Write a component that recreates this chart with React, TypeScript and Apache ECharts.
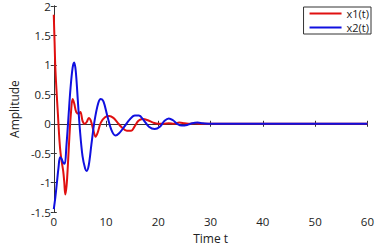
import React, { useEffect, useRef } from "react";
import * as echarts from "echarts";

const x1Data: [number, number][] = [
  [0, 1.85], [0.15, 1.4], [0.3, 0.95], [0.5, 0.6], [0.8, 0.15], [1.1, -0.3], [1.3, -0.5],
  [1.55, -0.66], [1.8, -0.8], [2.0, -0.98], [2.2, -1.2], [2.45, -1.05], [2.7, -0.7],
  [3.0, -0.2], [3.3, 0.2], [3.6, 0.42], [3.9, 0.35], [4.3, 0.2], [4.8, 0.17], [5.1, 0.2],
  [5.5, 0.05], [5.9, 0.0], [6.3, 0.03], [6.7, 0.1], [7.1, 0.05], [7.6, -0.12], [8.0, -0.22],
  [8.4, -0.15], [9.0, 0.02], [9.8, 0.11], [10.6, 0.13], [11.4, 0.1], [12.2, 0.02],
  [13.0, -0.06], [14.0, -0.12], [14.8, -0.12], [15.5, -0.04], [16.2, 0.05], [17.0, 0.08],
  [18.0, 0.06], [19.0, 0.02], [20.0, 0.0], [21, 0.0], [22, 0.01], [23, 0.0], [24, 0.02],
  [25, 0.01], [26, 0.0], [27, 0.01], [28, 0.0], [30, 0.0], [40, 0.0], [50, 0.0], [60, 0.0],
];

const x2Data: [number, number][] = [
  [0, -1.45], [0.3, -1.25], [0.6, -1.0], [0.9, -0.75], [1.2, -0.57], [1.5, -0.6],
  [1.8, -0.66], [2.1, -0.68], [2.4, -0.4], [2.8, 0.1], [3.2, 0.6], [3.6, 0.95], [3.9, 1.04],
  [4.2, 0.9], [4.6, 0.4], [5.0, -0.1], [5.5, -0.55], [6.0, -0.76], [6.3, -0.8], [6.7, -0.7],
  [7.2, -0.35], [7.8, 0.05], [8.5, 0.35], [9.0, 0.42], [9.5, 0.38], [10.2, 0.15],
  [11.0, -0.1], [11.8, -0.2], [12.5, -0.16], [13.5, -0.05], [14.5, 0.07], [15.5, 0.14],
  [16.3, 0.14], [17.2, 0.06], [18.2, -0.05], [19.3, -0.09], [20.3, -0.05], [21.2, 0.05],
  [22.0, 0.09], [22.8, 0.06], [23.6, 0.0], [24.5, -0.03], [25.5, -0.02], [26.5, 0.01],
  [27.5, 0.02], [28.5, 0.01], [30, 0.0], [32, 0.0], [40, 0.0], [50, 0.0], [60, 0.0],
];

const seriesNames = ["x1(t)", "x2(t)"];
const xTicks = { min: 0, max: 60, interval: 10 };
const yTicks = { min: -1.5, max: 2, interval: 0.5 };

export default function App() {
  const ref = useRef<HTMLDivElement>(null);
  useEffect(() => {
    if (!ref.current) return;
    const chart = echarts.init(ref.current, null, { renderer: "svg" });
    const font = "Open Sans, Liberation Sans, sans-serif";
    const axisLine = { show: true, lineStyle: { color: "#333", width: 1 } };
    const tick = { show: true, inside: true, length: 3, lineStyle: { color: "#333" } };
    chart.setOption({
      animation: false,
      backgroundColor: "#fff",
      grid: { left: 37, right: 6, top: 5, bottom: 25 },
      legend: {
        data: seriesNames,
        orient: "vertical",
        right: 6,
        top: 7,
        icon: "rect",
        backgroundColor: "#fff",
        borderColor: "#333",
        borderWidth: 1,
        borderRadius: 0,
        padding: [1, 2, 1, 6],
        itemGap: 3,
        itemWidth: 32,
        itemHeight: 2,
        textStyle: {
          fontSize: 11,
          color: "#222",
          fontFamily: font,
        },
      },
      xAxis: [
        {
          type: "value",
          min: xTicks.min,
          max: xTicks.max,
          interval: xTicks.interval,
          name: "Time t",
          nameLocation: "middle",
          nameGap: 16,
          nameTextStyle: { fontSize: 12, color: "#222", fontFamily: font },
          axisLine,
          axisTick: tick,
          axisLabel: { fontSize: 11.5, color: "#222", fontFamily: font, margin: 3 },
          splitLine: { show: false },
        },
        {
          type: "value",
          position: "top",
          min: xTicks.min,
          max: xTicks.max,
          interval: xTicks.interval,
          axisLine,
          axisTick: tick,
          axisLabel: { show: false },
          splitLine: { show: false },
        },
      ],
      yAxis: [
        {
          type: "value",
          min: yTicks.min,
          max: yTicks.max,
          interval: yTicks.interval,
          name: "Amplitude",
          nameLocation: "middle",
          nameGap: 24,
          nameTextStyle: { fontSize: 12, color: "#222", fontFamily: font },
          axisLine,
          axisTick: tick,
          axisLabel: { fontSize: 11.5, color: "#222", fontFamily: font, margin: 3 },
          splitLine: { show: false },
        },
        {
          type: "value",
          position: "right",
          min: yTicks.min,
          max: yTicks.max,
          interval: yTicks.interval,
          axisLine,
          axisTick: tick,
          axisLabel: { show: false },
          splitLine: { show: false },
        },
      ],
      series: [
        {
          name: seriesNames[0],
          type: "line",
          data: x1Data,
          symbol: "none",
          smooth: 0.35,
          lineStyle: { color: "#e01010", width: 2 },
          itemStyle: { color: "#e01010" },
        },
        {
          name: seriesNames[1],
          type: "line",
          data: x2Data,
          symbol: "none",
          smooth: 0.35,
          lineStyle: { color: "#1010e0", width: 2 },
          itemStyle: { color: "#1010e0" },
        },
      ],
    });
    return () => chart.dispose();
  }, []);
  return <div ref={ref} style={{ width: 377, height: 249, position: "fixed", left: 0, top: 0 }} />;
}
